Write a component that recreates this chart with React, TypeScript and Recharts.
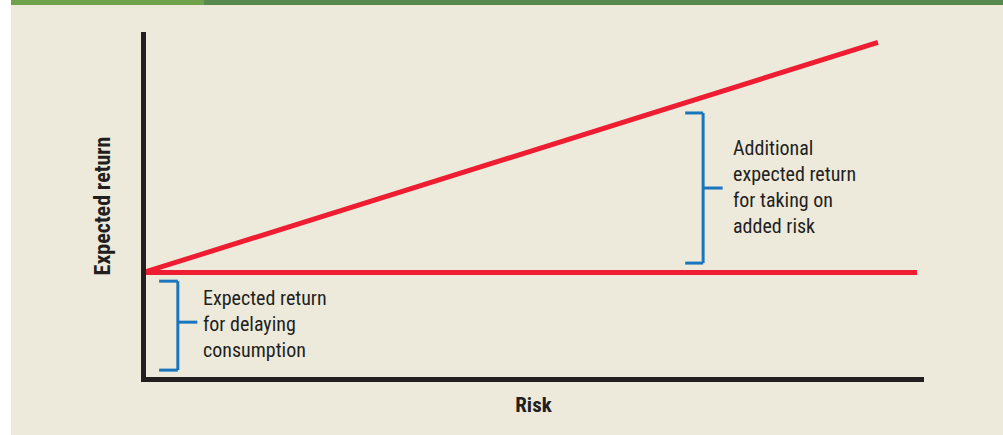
import React from 'react'
import { LineChart, Line, XAxis, YAxis, ReferenceLine } from 'recharts'

// Risk / return lines (x = risk, y = expected return, both 0-100)
const smlRisk = [0, 94.1]
const smlReturn = [30.8, 97.0]
const floorRisk = [0, 99.1]
const floorReturn = [30.8, 30.8]

// Axis extents in data units (slightly past 0 so the corner closes)
const xAxisSpan = [-0.32, 100]
const yAxisSpan = [-0.72, 100]

// Brackets: [spine x, tick-start x, mid-tick end x, top y, bottom y, mid y]
const lowBracket = [4.4, 2.0, 6.9, 28.3, 2.7, 16.5]
const highBracket = [71.7, 69.4, 74.2, 76.7, 33.5, 55.1]

const lowNote = ['Expected return', 'for delaying', 'consumption']
const highNote = ['Additional', 'expected return', 'for taking on', 'added risk']
const xTitle = 'Risk'
const yTitle = 'Expected return'

const W = 1003
const H = 435
const INK = '#231f20'
const RED = '#ee1d32'
const BLUE = '#1b75bc'
const FONT = "'Liberation Sans Narrow', 'Roboto Condensed', 'Liberation Sans', Roboto, sans-serif"

const smlData = smlRisk.map((r, i) => ({ risk: r, ret: smlReturn[i] }))
const floorData = floorRisk.map((r, i) => ({ risk: r, ret: floorReturn[i] }))

function bracketSegments(b: number[]) {
  const [sx, tx, mx, top, bottom, mid] = b
  return [
    [{ x: sx, y: top }, { x: sx, y: bottom }],
    [{ x: tx, y: top }, { x: sx, y: top }],
    [{ x: tx, y: bottom }, { x: sx, y: bottom }],
    [{ x: sx, y: mid }, { x: mx, y: mid }],
  ]
}

export default function App() {
  const segs = [...bracketSegments(lowBracket), ...bracketSegments(highBracket)]

  return (
    <div style={{ position: 'absolute', left: 0, top: 0, width: W, height: H, background: '#ffffff' }}>
      <div style={{ position: 'absolute', left: 11, top: 0, right: 0, bottom: 0, background: '#edeadc' }} />
      <div style={{ position: 'absolute', left: 11, top: 0, width: 193, height: 5, background: '#6fa24a' }} />
      <div style={{ position: 'absolute', left: 204, top: 0, right: 0, height: 5, background: '#588a50' }} />

      <div style={{ position: 'absolute', left: 0, top: 0 }}>
        <LineChart width={W} height={H} margin={{ top: 32, right: 79, bottom: 55.5, left: 143.5 }}>
          <XAxis type="number" dataKey="risk" domain={[0, 100]} allowDataOverflow hide />
          <YAxis type="number" dataKey="ret" domain={[0, 100]} allowDataOverflow hide />
          {segs.map((s, i) => (
            <ReferenceLine key={`b-${i}`} segment={s} stroke={BLUE} strokeWidth={3} ifOverflow="visible" />
          ))}
          <Line data={floorData} dataKey="ret" stroke={RED} strokeWidth={5} dot={false} isAnimationActive={false} />
          <Line data={smlData} dataKey="ret" stroke={RED} strokeWidth={5} dot={false} isAnimationActive={false} />
          <ReferenceLine
            segment={[{ x: xAxisSpan[0], y: 0 }, { x: xAxisSpan[1], y: 0 }]}
            stroke={INK}
            strokeWidth={5}
            ifOverflow="visible"
          />
          <ReferenceLine
            segment={[{ x: 0, y: yAxisSpan[0] }, { x: 0, y: yAxisSpan[1] }]}
            stroke={INK}
            strokeWidth={5}
            ifOverflow="visible"
          />
        </LineChart>
      </div>

      <svg width={W} height={H} style={{ position: 'absolute', left: 0, top: 0, pointerEvents: 'none' }}>
        <g fontFamily={FONT} fontSize={20} fill={INK}>
          {lowNote.map((t, i) => (
            <text key={t} x={203} y={305 + i * 26}>{t}</text>
          ))}
          {highNote.map((t, i) => (
            <text key={t} x={733} y={155 + i * 26}>{t}</text>
          ))}
        </g>
        <text x={533.5} y={412} textAnchor="middle" fontFamily={FONT} fontWeight="bold" fontSize={21} fill={INK}>
          {xTitle}
        </text>
        <text
          x={110}
          y={206}
          textAnchor="middle"
          transform="rotate(-90 110 206)"
          fontFamily={FONT}
          fontWeight="bold"
          fontSize={22}
          fill={INK}
        >
          {yTitle}
        </text>
      </svg>
    </div>
  )
}
